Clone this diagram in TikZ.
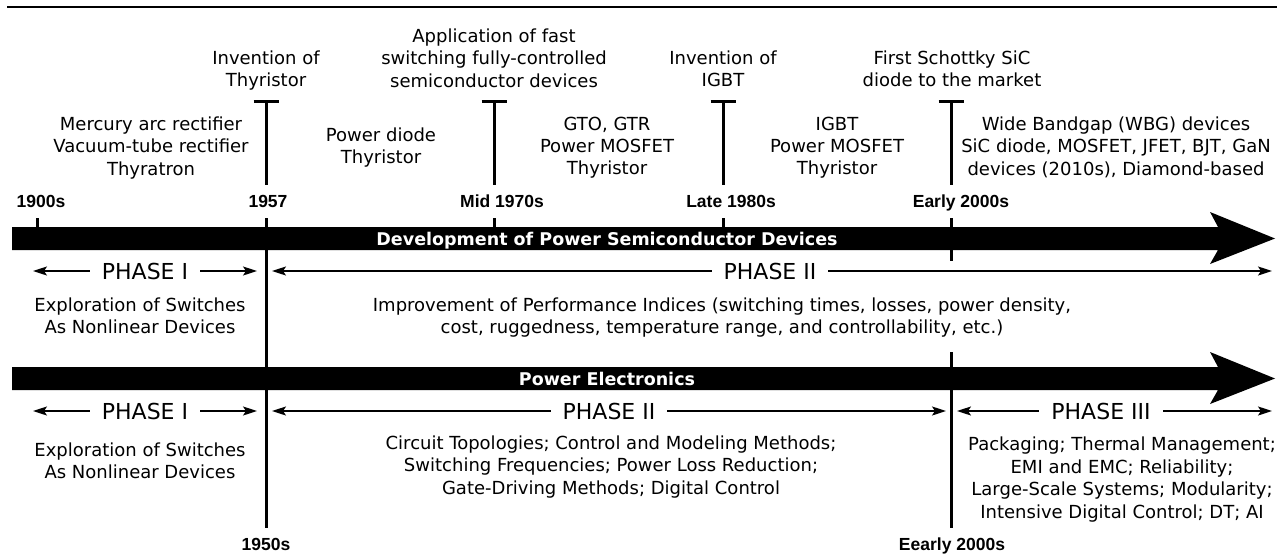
\documentclass[tikz,border=0pt]{standalone}
\usepackage{fontspec}
\setmainfont{DejaVu Sans}
\newfontfamily\lblfont{Liberation Sans}
\usetikzlibrary{arrows.meta}
\begin{document}
\begin{tikzpicture}[x=1pt,y=-1pt,
  txt/.style={font=\fontsize{18}{22.4}\selectfont, align=center, inner sep=0pt, anchor=north},
  yr/.style={font=\lblfont\bfseries\fontsize{17.5}{20}\selectfont, inner sep=0pt, anchor=base},
  ban/.style={font=\bfseries\fontsize{17.5}{20}\selectfont, text=white, inner sep=0pt, anchor=base},
  phase/.style={font=\fontsize{22}{25}\selectfont, fill=white, inner xsep=12pt, inner ysep=1pt, anchor=base},
  parr/.style={line width=1.6pt, {Stealth[length=14pt,width=9pt,inset=3pt]}-{Stealth[length=14pt,width=9pt,inset=3pt]}},
  vline/.style={line width=3pt},
  tbar/.style={line width=3pt},
]
\useasboundingbox (0,0) rectangle (1284,554);
% top rule
\coordinate (r1) at (7,7); \coordinate (r2) at (1277,7);
\draw[line width=2.5pt] (r1) -- (r2);

% time-point coordinates
\coordinate (a00) at (37,218);  \coordinate (a00b) at (37,236);
\coordinate (a57t) at (266,101); \coordinate (a57m) at (266,185);
\coordinate (a57s) at (266,218); \coordinate (a57e) at (266,528);
\coordinate (a70t) at (494,101); \coordinate (a70m) at (494,185);
\coordinate (a70s) at (494,218); \coordinate (a70e) at (494,236);
\coordinate (a80t) at (723,101); \coordinate (a80m) at (723,185);
\coordinate (a80s) at (723,218); \coordinate (a80e) at (723,236);
\coordinate (a20t) at (951,101); \coordinate (a20m) at (951,185);
\coordinate (a20s) at (951,218); \coordinate (a20e) at (951,261);
\coordinate (a20l) at (951,352); \coordinate (a20f) at (951,528);

% vertical lines
\draw[vline] (a00) -- (a00b);
\foreach \p in {57,70,80,20}{
  \draw[vline] (a\p t) -- (a\p m);
  \draw[tbar] ([xshift=-12.5pt]a\p t) -- ([xshift=12.5pt]a\p t);
}
\draw[vline] (a57s) -- (a57e);
\draw[vline] (a70s) -- (a70e);
\draw[vline] (a80s) -- (a80e);
\draw[vline] (a20s) -- (a20e);
\draw[vline] (a20l) -- (a20f);

% big arrows
\fill (12,227) -- (1218,227) -- (1210,212) -- (1275,238.5) -- (1210,264) -- (1218,250) -- (12,250) -- cycle;
\fill (12,367) -- (1218,367) -- (1210,352) -- (1275,378.5) -- (1210,404) -- (1218,390) -- (12,390) -- cycle;
\node[ban] (b1) at (607,245) {Development of Power Semiconductor Devices};
\node[ban] (b2) at (607,385) {Power Electronics};

% year labels
\node[yr] (y00) at (41,207.5) {1900s};
\node[yr] (y57) at (268,207.5) {1957};
\node[yr] (y70) at (502,207.5) {Mid 1970s};
\node[yr] (y80) at (731,207.5) {Late 1980s};
\node[yr] (y20) at (961,207.5) {Early 2000s};
\node[yr] (y50) at (266,550) {1950s};
\node[yr] (y20b) at (952,550) {Eearly 2000s};

% top texts
\node[txt] (t1) at (151,116.5) {Mercury arc rectifier\\Vacuum-tube rectifier\\Thyratron};
\node[txt] (t2) at (266,50.5) {Invention of\\Thyristor};
\node[txt] (t3) at (381,127.5) {Power diode\\Thyristor};
\node[txt] (t4) at (494,28.5) {Application of fast\\switching fully-controlled\\semiconductor devices};
\node[txt] (t5) at (607,116.5) {GTO, GTR\\Power MOSFET\\Thyristor};
\node[txt] (t6) at (723,50.5) {Invention of\\IGBT};
\node[txt] (t7) at (837,116.5) {IGBT\\Power MOSFET\\Thyristor};
\node[txt] (t8) at (952,50.5) {First Schottky SiC\\diode to the market};
\node[txt] (t9) at (1116,116.5) {Wide Bandgap (WBG) devices\\SiC diode, MOSFET, JFET, BJT, GaN\\devices (2010s), Diamond-based};

% phase rows
\coordinate (p1a) at (33,271);  \coordinate (p1b) at (257,271);
\coordinate (p2a) at (272,271); \coordinate (p2b) at (1272,271);
\coordinate (q1a) at (33,411);  \coordinate (q1b) at (257,411);
\coordinate (q2a) at (272,411); \coordinate (q2b) at (946,411);
\coordinate (q3a) at (957,411); \coordinate (q3b) at (1272,411);
\draw[parr] (p1a) -- (p1b);
\draw[parr] (p2a) -- (p2b);
\draw[parr] (q1a) -- (q1b);
\draw[parr] (q2a) -- (q2b);
\draw[parr] (q3a) -- (q3b);
\node[phase] (ph1) at (145,279) {PHASE I};
\node[phase] (ph2) at (770,279) {PHASE II};
\node[phase] (ph3) at (145,419) {PHASE I};
\node[phase] (ph4) at (609,419) {PHASE II};
\node[phase] (ph5) at (1101,419) {PHASE III};

% phase texts
\node[txt] (e1) at (140,297.5) {Exploration of Switches\\As Nonlinear Devices};
\node[txt] (e2) at (722,297.5) {Improvement of Performance Indices (switching times, losses, power density,\\cost, ruggedness, temperature range, and controllability, etc.)};
\node[txt] (e3) at (140,442.5) {Exploration of Switches\\As Nonlinear Devices};
\node[txt] (e4) at (611,435.5) {Circuit Topologies; Control and Modeling Methods;\\Switching Frequencies; Power Loss Reduction;\\Gate-Driving Methods; Digital Control};
\node[txt] (e5) at (1122,437) {Packaging; Thermal Management;\\EMI and EMC; Reliability;\\Large-Scale Systems; Modularity;\\Intensive Digital Control; DT; AI};
\end{tikzpicture}
\end{document}
